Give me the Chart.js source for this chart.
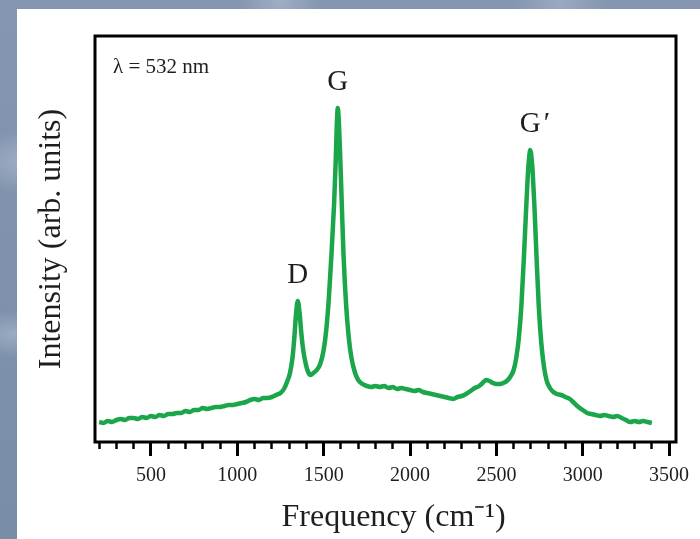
<!DOCTYPE html>
<html>
<head>
<meta charset="utf-8">
<script src="https://cdn.jsdelivr.net/npm/chart.js@4/dist/chart.umd.min.js"></script>
<style>
  html, body { margin: 0; padding: 0; }
  body {
    width: 700px; height: 539px; overflow: hidden; position: relative;
    background:
      radial-gradient(ellipse at 4% 30%, rgba(220,230,245,.35), transparent 6%),
      radial-gradient(ellipse at 2% 62%, rgba(220,230,245,.30), transparent 5%),
      radial-gradient(ellipse at 40% 0%, rgba(220,230,245,.30), transparent 7%),
      radial-gradient(ellipse at 80% 1%, rgba(220,230,245,.25), transparent 6%),
      linear-gradient(180deg, #8496b0, #7a8da8);
  }
  #sheet { position: absolute; left: 17px; top: 9px; right: 0; bottom: 0; background: #fff; }
  #raman { position: absolute; left: 0; top: 0; }
</style>
</head>
<body>
<div id="sheet"></div>
<canvas id="raman" width="700" height="539"></canvas>
<script>
// Raman shift (cm^-1) and measured intensity (arb. units)
const shift = [
  200, 225, 250, 275, 300, 325, 350, 375, 400, 425, 450, 475, 500, 525, 550, 575,
  600, 625, 650, 675, 700, 725, 750, 775, 800, 825, 850, 875, 900, 925, 950, 975,
  1000, 1025, 1050, 1075, 1100, 1125, 1150, 1175, 1200, 1225, 1250, 1270, 1290, 1305,
  1320, 1330, 1340, 1350, 1360, 1370, 1380, 1395, 1410, 1425, 1440, 1460, 1480, 1500,
  1515, 1530, 1545, 1560, 1570, 1576, 1582, 1588, 1595, 1605, 1615, 1630, 1645, 1660,
  1680, 1700, 1725, 1750, 1775, 1800, 1825, 1850, 1875, 1900, 1925, 1950, 1975, 2000,
  2025, 2050, 2075, 2100, 2125, 2150, 2175, 2200, 2225, 2250, 2275, 2300, 2325, 2350,
  2375, 2400, 2420, 2440, 2460, 2480, 2500, 2520, 2540, 2560, 2580, 2600, 2615, 2630,
  2645, 2660, 2672, 2682, 2690, 2696, 2702, 2710, 2720, 2732, 2745, 2760, 2775, 2790,
  2810, 2830, 2850, 2875, 2900, 2925, 2950, 2975, 3000, 3025, 3050, 3075, 3100, 3125,
  3150, 3175, 3200, 3225, 3250, 3275, 3300, 3325, 3350, 3375, 3400
];
const intensity = [
  20, 19, 21, 20, 22, 23, 22, 24, 24, 23, 25, 24, 26, 25, 27, 26,
  28, 28, 29, 29, 31, 30, 32, 32, 34, 33, 34, 35, 35, 36, 37, 37,
  38, 39, 40, 42, 43, 42, 44, 44, 45, 47, 49, 53, 61, 69,
  85, 104, 128, 141, 130, 110, 94, 79, 70, 67, 69, 72, 78, 92,
  112, 144, 187, 237, 282, 317, 334, 320, 290, 237, 187, 137, 105, 85,
  70, 62, 58, 56, 55, 56, 55, 56, 54, 55, 53, 54, 53, 52,
  51, 52, 50, 49, 48, 47, 46, 45, 44, 43, 45, 46, 48, 51,
  54, 56, 59, 62, 61, 59, 58, 58, 59, 61, 65, 72, 84, 104,
  137, 187, 232, 267, 285, 292, 287, 270, 237, 187, 137, 99, 76, 62,
  54, 50, 48, 47, 45, 43, 39, 35, 32, 29, 28, 27, 26, 27,
  26, 25, 26, 24, 22, 20, 21, 20, 21, 20, 19
];

// labelled ticks on the frequency axis
const freqTicks = [500, 1000, 1500, 2000, 2500, 3000, 3500];

// band names and where they sit
const peakLabels = ['D', 'G', 'G'];
const peakShifts = [1350, 1582, 2696];
const peakPrimes = [false, false, true];

const xMin = 176, xMax = 3540;
const serif = '"Liberation Serif", "Times New Roman", serif';
const ink = '#1e1e1e';

// tick marks every 100 cm^-1, only the freqTicks ones get a label
const allTicks = [];
for (let v = 200; v <= 3500; v += 100) allTicks.push(v);
const isMajor = v => freqTicks.includes(v);

// black box round the plot area
const frame = {
  id: 'frame',
  afterDatasetsDraw(chart) {
    const { ctx, chartArea: a } = chart;
    ctx.save();
    ctx.strokeStyle = '#000';
    ctx.lineWidth = 3;
    ctx.strokeRect(a.left, a.top, a.right - a.left, a.bottom - a.top);
    ctx.restore();
  }
};

// band names over the peaks and the laser line note
const bandNames = {
  id: 'bandNames',
  afterDraw(chart) {
    const { ctx, chartArea: a, scales } = chart;
    ctx.save();
    ctx.fillStyle = ink;
    ctx.textBaseline = 'middle';
    ctx.font = '29px ' + serif;
    peakLabels.forEach((name, i) => {
      let top = 0;
      shift.forEach((s, j) => {
        if (Math.abs(s - peakShifts[i]) <= 10) top = Math.max(top, intensity[j]);
      });
      const px = scales.x.getPixelForValue(peakShifts[i]);
      const py = scales.y.getPixelForValue(top) - 26;
      ctx.textAlign = 'center';
      ctx.fillText(name, px, py);
      if (peakPrimes[i]) {
        ctx.textAlign = 'left';
        ctx.fillText('\u2032', px + ctx.measureText(name).width / 2 + 3, py);
      }
    });
    ctx.textAlign = 'left';
    ctx.font = '21px ' + serif;
    ctx.fillText('\u03bb = 532 nm', a.left + 18, a.top + 31);
    ctx.restore();
  }
};

new Chart(document.getElementById('raman'), {
  type: 'line',
  data: {
    datasets: [{
      data: shift.map((s, i) => ({ x: s, y: intensity[i] })),
      borderColor: '#1ba64b',
      borderWidth: 4.5,
      pointRadius: 0,
      cubicInterpolationMode: 'monotone',
      fill: false
    }]
  },
  options: {
    responsive: false,
    animation: false,
    layout: { padding: { top: 36, right: 24, left: 0, bottom: 0 } },
    plugins: { legend: { display: false }, tooltip: { enabled: false } },
    scales: {
      x: {
        type: 'linear',
        min: xMin,
        max: xMax,
        afterFit: s => { s.height = 97; },
        afterBuildTicks: axis => { axis.ticks = allTicks.map(v => ({ value: v })); },
        border: { display: false },
        grid: {
          drawOnChartArea: false,
          drawTicks: true,
          tickLength: 14,
          tickColor: '#000',
          tickWidth: c => (c.tick && isMajor(c.tick.value) ? 3 : 2.5),
          // minor marks: draw the first 7px of the tick, then a gap
          tickBorderDash: c => (c.tick && isMajor(c.tick.value) ? [] : [7, 40])
        },
        ticks: {
          padding: 8,
          color: ink,
          autoSkip: false,
          font: { family: serif, size: 20 },
          maxRotation: 0,
          callback: v => (isMajor(v) ? String(v) : '')
        },
        title: {
          display: true,
          text: '\u2002Frequency (cm\u207b\u00b9)',
          color: ink,
          font: { family: serif, size: 32 },
          padding: { top: 0, bottom: 2 }
        }
      },
      y: {
        min: 0,
        max: 406,
        afterFit: s => { s.width = 95; },
        border: { display: false },
        grid: { display: false },
        ticks: { display: false },
        title: {
          display: true,
          text: 'Intensity (arb. units)',
          color: ink,
          font: { family: serif, size: 32 },
          padding: { top: 32, bottom: 0 }
        }
      }
    }
  },
  plugins: [frame, bandNames]
});
</script>
</body>
</html>
